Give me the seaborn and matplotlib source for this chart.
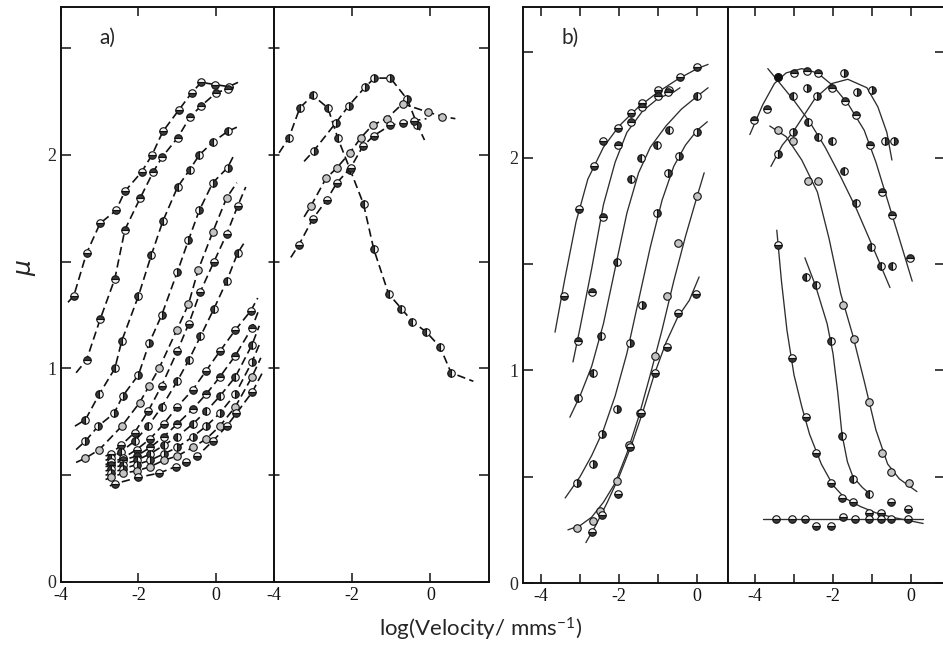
import matplotlib
matplotlib.use("Agg")
import matplotlib.pyplot as plt
import seaborn as sns

# ---------------- data: panel a), left half (dashed curves, points) ----------------
aL1_x = [-3.67, -3.34, -2.99, -2.58, -2.35, -1.92, -1.65, -1.37, -0.96, -0.63, -0.38, -0.03, 0.33]
aL1_y = [1.34, 1.54, 1.68, 1.74, 1.83, 1.92, 2.00, 2.11, 2.21, 2.29, 2.34, 2.33, 2.32]
aL2_x = [-3.34, -2.99, -2.61, -2.35, -1.95, -1.62, -1.39, -0.99, -0.66, -0.38, 0.00, 0.30]
aL2_y = [1.04, 1.23, 1.42, 1.65, 1.80, 1.92, 1.99, 2.08, 2.18, 2.23, 2.29, 2.31]
aL3_x = [-3.37, -3.01, -2.61, -2.43, -2.00, -1.67, -1.37, -0.99, -0.68, -0.43, -0.08, 0.30]
aL3_y = [0.76, 0.88, 1.00, 1.13, 1.34, 1.53, 1.69, 1.85, 1.93, 2.00, 2.06, 2.11]
aL4_x = [-3.37, -3.04, -2.63, -2.41, -2.00, -1.72, -1.40, -1.00, -0.71, -0.43, -0.08, 0.30]
aL4_y = [0.66, 0.73, 0.79, 0.87, 0.97, 1.12, 1.25, 1.45, 1.60, 1.74, 1.87, 1.94]
aL5_x = [-3.37, -3.01, -2.43, -1.97, -1.72, -1.47, -1.01, -0.71, -0.46, -0.08, 0.28]
aL5_y = [0.58, 0.62, 0.73, 0.84, 0.92, 1.00, 1.18, 1.30, 1.46, 1.64, 1.80]
aL6_x = [-2.72, -2.45, -2.10, -1.75, -1.40, -1.00, -0.70, -0.40, -0.05, 0.28, 0.56]
aL6_y = [0.60, 0.64, 0.70, 0.80, 0.92, 1.08, 1.21, 1.36, 1.50, 1.63, 1.76]
aL7_x = [-2.72, -2.45, -2.10, -1.75, -1.40, -1.00, -0.70, -0.40, -0.05, 0.28, 0.56]
aL7_y = [0.58, 0.61, 0.66, 0.73, 0.82, 0.94, 1.04, 1.15, 1.28, 1.41, 1.54]
aL8_x = [-2.70, -2.40, -2.05, -1.70, -1.35, -1.00, -0.60, -0.25, 0.10, 0.50, 0.90]
aL8_y = [0.56, 0.58, 0.62, 0.67, 0.74, 0.82, 0.90, 0.99, 1.08, 1.18, 1.27]
aL9_x = [-2.70, -2.40, -2.05, -1.70, -1.35, -1.00, -0.60, -0.25, 0.10, 0.50, 0.93]
aL9_y = [0.55, 0.57, 0.59, 0.63, 0.68, 0.74, 0.81, 0.88, 0.96, 1.06, 1.19]
aL10_x = [-2.70, -2.40, -2.05, -1.70, -1.35, -1.00, -0.60, -0.25, 0.10, 0.50, 0.93]
aL10_y = [0.53, 0.55, 0.57, 0.60, 0.64, 0.68, 0.74, 0.80, 0.87, 0.96, 1.11]
aL11_x = [-2.70, -2.40, -2.05, -1.70, -1.35, -1.00, -0.60, -0.25, 0.10, 0.50, 0.93]
aL11_y = [0.51, 0.53, 0.55, 0.57, 0.60, 0.63, 0.68, 0.73, 0.79, 0.88, 1.03]
aL12_x = [-2.70, -2.40, -2.05, -1.70, -1.35, -1.00, -0.60, -0.25, 0.10, 0.50, 0.93]
aL12_y = [0.49, 0.51, 0.52, 0.54, 0.57, 0.59, 0.63, 0.67, 0.73, 0.82, 0.96]
aL13_x = [-2.61, -2.00, -1.47, -1.04, -0.76, -0.48, -0.08, 0.28, 0.53, 0.94]
aL13_y = [0.46, 0.49, 0.51, 0.54, 0.56, 0.59, 0.66, 0.73, 0.79, 0.89]
# where each dashed line starts and ends (beyond the first / last point)
aL_start_x = [-3.82, -3.61, -3.64, -3.61, -3.61, -2.85, -2.85, -2.85, -2.85, -2.85, -2.85, -2.85, -2.74]
aL_start_y = [1.31, 0.98, 0.73, 0.62, 0.56, 0.59, 0.57, 0.55, 0.54, 0.52, 0.50, 0.48, 0.45]
aL_end_x = [0.57, 0.45, 0.54, 0.44, 0.54, 0.77, 0.77, 1.08, 1.10, 1.12, 1.14, 1.16, 1.20]
aL_end_y = [2.34, 2.32, 2.13, 1.99, 1.87, 1.85, 1.60, 1.33, 1.27, 1.20, 1.12, 1.05, 0.98]

# ---------------- data: panel a), right half ----------------
aR1_x = [-3.62, -3.34, -3.01, -2.62, -2.37, -2.05, -1.71, -1.45, -1.07, -0.74, -0.46, -0.10, 0.25, 0.53]
aR1_y = [2.08, 2.22, 2.28, 2.22, 2.08, 1.93, 1.77, 1.56, 1.35, 1.28, 1.22, 1.17, 1.10, 0.98]
aR2_x = [-2.98, -2.42, -2.09, -1.66, -1.43, -1.02, -0.59, -0.33]
aR2_y = [2.02, 2.15, 2.23, 2.32, 2.36, 2.36, 2.26, 2.14]
aR3_x = [-3.06, -2.67, -2.39, -2.06, -1.78, -1.48, -1.12, -0.71, -0.05, 0.31]
aR3_y = [1.76, 1.89, 1.94, 2.01, 2.08, 2.14, 2.17, 2.24, 2.20, 2.18]
aR4_x = [-3.36, -3.01, -2.65, -2.39, -2.04, -1.73, -1.45, -1.02, -0.69, -0.43]
aR4_y = [1.58, 1.70, 1.79, 1.87, 1.94, 2.04, 2.09, 2.14, 2.15, 2.16]
aR_start_x = [-3.87, -3.23, -3.23, -3.57]
aR_start_y = [2.01, 1.97, 1.71, 1.52]
aR_end_x = [1.10, -0.15, 0.64, -0.10]
aR_end_y = [0.94, 2.07, 2.17, 2.17]

# ---------------- data: panel b), left half: measured points ----------------
bL1_x = [-3.41, -3.03, -2.64, -2.41, -2.03, -1.69, -1.41, -1.00, -0.72, -0.44, 0.00]
bL1_y = [1.35, 1.76, 1.96, 2.08, 2.14, 2.21, 2.26, 2.32, 2.32, 2.38, 2.43]
bL2_x = [-3.05, -2.69, -2.41, -2.03, -1.69, -1.41, -1.00, -0.74]
bL2_y = [1.14, 1.37, 1.72, 2.06, 2.17, 2.24, 2.29, 2.31]
bL3_x = [-3.05, -2.67, -2.46, -2.05, -1.69, -1.44, -1.03, -0.72, 0.00]
bL3_y = [0.87, 0.99, 1.16, 1.51, 1.90, 2.00, 2.06, 2.13, 2.29]
bL4_x = [-3.08, -2.67, -2.44, -2.05, -1.72, -1.41, -1.03, -0.74, -0.46, 0.00]
bL4_y = [0.47, 0.56, 0.70, 0.82, 1.13, 1.31, 1.74, 1.93, 2.01, 2.12]
bL5_x = [-3.08, -2.67, -2.49, -2.05, -1.74, -1.46, -1.08, -0.77, -0.49, 0.00]
bL5_y = [0.26, 0.29, 0.34, 0.48, 0.65, 0.80, 1.07, 1.35, 1.60, 1.82]
bL6_x = [-2.69, -2.44, -2.03, -1.72, -1.44, -1.08, -0.77, -0.49, -0.03]
bL6_y = [0.24, 0.32, 0.42, 0.64, 0.80, 0.99, 1.11, 1.27, 1.36]
# panel b), left half: drawn curves
bL1_cx = [-3.64, -3.40, -3.10, -2.80, -2.40, -2.00, -1.50, -1.00, -0.50, 0.00, 0.28]
bL1_cy = [1.18, 1.42, 1.70, 1.90, 2.05, 2.15, 2.24, 2.31, 2.37, 2.42, 2.44]
bL2_cx = [-3.18, -3.00, -2.70, -2.40, -2.10, -1.80, -1.40, -1.00, -0.60, -0.44]
bL2_cy = [1.04, 1.20, 1.48, 1.78, 1.98, 2.12, 2.22, 2.28, 2.31, 2.33]
bL3_cx = [-3.26, -3.00, -2.70, -2.40, -2.10, -1.80, -1.50, -1.20, -0.80, -0.40, 0.00, 0.28]
bL3_cy = [0.78, 0.88, 1.02, 1.22, 1.48, 1.74, 1.93, 2.05, 2.15, 2.23, 2.29, 2.33]
bL4_cx = [-3.38, -3.00, -2.70, -2.40, -2.10, -1.80, -1.50, -1.20, -0.90, -0.60, -0.30, 0.00, 0.26]
bL4_cy = [0.40, 0.50, 0.60, 0.72, 0.88, 1.08, 1.33, 1.58, 1.80, 1.96, 2.06, 2.13, 2.17]
bL5_cx = [-3.31, -3.00, -2.70, -2.40, -2.10, -1.80, -1.50, -1.20, -0.90, -0.60, -0.30, 0.00, 0.18]
bL5_cy = [0.25, 0.27, 0.31, 0.38, 0.47, 0.61, 0.78, 0.98, 1.19, 1.42, 1.63, 1.82, 1.93]
bL6_cx = [-2.85, -2.60, -2.30, -2.00, -1.70, -1.40, -1.10, -0.80, -0.50, -0.20, 0.05]
bL6_cy = [0.19, 0.27, 0.38, 0.50, 0.64, 0.80, 0.98, 1.13, 1.25, 1.33, 1.44]

# ---------------- data: panel b), right half: measured points ----------------
bR1_x = [-4.03, -3.69, -3.41, -3.00, -2.67, -2.38, -2.03, -1.69, -1.41, -1.05, -0.74, -0.49, -0.03]
bR1_y = [2.18, 2.23, 2.38, 2.40, 2.41, 2.40, 2.33, 2.27, 2.20, 2.06, 1.84, 1.73, 1.53]
bR2_x = [-3.03, -2.64, -2.38, -2.03, -1.72, -1.41, -1.03, -0.77, -0.49]
bR2_y = [2.29, 2.17, 2.10, 2.08, 1.94, 1.79, 1.58, 1.49, 1.49]
bR3_x = [-3.41, -3.03, -2.67, -2.41, -1.72, -1.38, -1.00, -0.67, -0.44]
bR3_y = [2.02, 2.12, 2.33, 2.29, 2.40, 2.31, 2.32, 2.08, 2.08]
bR4_x = [-3.41, -3.03, -2.64, -2.38, -1.74, -1.46, -1.08, -0.74, -0.51, -0.05]
bR4_y = [2.13, 2.08, 1.89, 1.89, 1.31, 1.15, 0.85, 0.61, 0.52, 0.47]
bR5_x = [-3.41, -3.05, -2.69, -2.44, -2.05, -1.77, -1.49, -1.08, -0.77, -0.51, -0.08]
bR5_y = [1.59, 1.06, 0.78, 0.61, 0.47, 0.40, 0.38, 0.33, 0.33, 0.38, 0.35]
bR6_x = [-2.69, -2.44, -2.05, -1.77, -1.49, -1.08]
bR6_y = [1.44, 1.40, 1.14, 0.69, 0.49, 0.42]
bR7_x = [-3.46, -3.05, -2.72, -2.44, -2.05, -1.74, -1.44, -1.08, -0.77, -0.51, -0.08]
bR7_y = [0.30, 0.30, 0.30, 0.27, 0.27, 0.31, 0.30, 0.30, 0.30, 0.30, 0.30]
# panel b), right half: drawn curves
bR1_cx = [-4.13, -3.80, -3.50, -3.20, -2.80, -2.40, -2.00, -1.60, -1.20, -0.90, -0.60, -0.30, 0.03]
bR1_cy = [2.11, 2.25, 2.35, 2.40, 2.42, 2.40, 2.34, 2.25, 2.13, 1.98, 1.80, 1.62, 1.42]
bR2_cx = [-3.67, -3.40, -3.00, -2.60, -2.20, -1.80, -1.40, -1.00, -0.54]
bR2_cy = [2.42, 2.36, 2.27, 2.17, 2.05, 1.91, 1.76, 1.59, 1.39]
bR3_cx = [-3.59, -3.30, -3.03, -2.46, -2.03, -1.62, -1.13, -0.85, -0.62, -0.49]
bR3_cy = [1.96, 2.06, 2.12, 2.28, 2.35, 2.37, 2.33, 2.24, 2.12, 1.99]
bR4_cx = [-3.62, -3.20, -2.80, -2.40, -2.10, -1.80, -1.50, -1.20, -0.90, -0.60, -0.30, 0.15]
bR4_cy = [2.15, 2.10, 1.99, 1.84, 1.62, 1.36, 1.17, 0.95, 0.72, 0.56, 0.49, 0.43]
bR5_cx = [-3.44, -3.32, -3.18, -3.00, -2.80, -2.60, -2.30, -2.00, -1.70, -1.30, -0.90, -0.50, 0.31]
bR5_cy = [1.66, 1.42, 1.19, 0.98, 0.83, 0.70, 0.56, 0.46, 0.40, 0.36, 0.33, 0.31, 0.28]
bR6_cx = [-2.72, -2.45, -2.15, -2.00, -1.88, -1.77, -1.63, -1.49, -1.25, -1.00]
bR6_cy = [1.53, 1.40, 1.22, 1.08, 0.90, 0.70, 0.57, 0.50, 0.45, 0.41]
bR7_cx = [-3.79, 0.31]
bR7_cy = [0.30, 0.30]

# tick labels
y_ticks = [0, 0.5, 1, 1.5, 2, 2.5]
y_labels = ["0", "", "1", "", "2", ""]
xa_ticks = [-4, -2, 0]
xa_labels = ["-4", "-2", "0"]
xb_ticks = [-4, -3, -2, -1, 0]
xb_labels = ["-4", "", "-2", "", "0"]

# ---------------- styling ----------------
sns.set_style("white")
plt.rcParams["font.family"] = "serif"
plt.rcParams["font.serif"] = ["Liberation Serif", "DejaVu Serif"]

W, H = 943, 655
fig = plt.figure(figsize=(W / 100, H / 100), dpi=100)


def add_ax(x0, x1, y0, y1):
    return fig.add_axes([x0 / W, 1 - y1 / H, (x1 - x0) / W, (y1 - y0) / H])


axL = add_ax(61, 274, 7, 582)
axR = add_ax(274, 489, 7, 582)
bxL = add_ax(523, 728, 7, 583)
bxR = add_ax(728, 945, 7, 583)

FILLS = ["bottom", "top", "left", "right", "full", "bottom", "left"]
INK = "#111111"


def draw_line(ax, xs, ys, dashed):
    sns.lineplot(
        x=xs, y=ys, ax=ax, sort=False, estimator=None,
        color=INK if dashed else "#2e2e2e",
        linewidth=1.2 if dashed else 0.95,
        linestyle=(0, (5, 2.6)) if dashed else "-",
    )


def draw_marks(ax, xs, ys, k):
    fs = FILLS[k % len(FILLS)]
    face = "#c4c4c4" if fs == "full" else "#3a3a3a"
    sns.lineplot(
        x=xs, y=ys, ax=ax, sort=False, estimator=None, linestyle="none",
        marker="o", markersize=5.4, fillstyle=fs, color=INK,
        markerfacecolor=face, markerfacecoloralt="#f4f4f4",
        markeredgecolor=INK, markeredgewidth=0.8,
    )


aL = [(aL1_x, aL1_y), (aL2_x, aL2_y), (aL3_x, aL3_y), (aL4_x, aL4_y), (aL5_x, aL5_y),
      (aL6_x, aL6_y), (aL7_x, aL7_y), (aL8_x, aL8_y), (aL9_x, aL9_y), (aL10_x, aL10_y),
      (aL11_x, aL11_y), (aL12_x, aL12_y), (aL13_x, aL13_y)]
aR = [(aR1_x, aR1_y), (aR2_x, aR2_y), (aR3_x, aR3_y), (aR4_x, aR4_y)]
bL = [(bL1_x, bL1_y), (bL2_x, bL2_y), (bL3_x, bL3_y), (bL4_x, bL4_y), (bL5_x, bL5_y), (bL6_x, bL6_y)]
bLc = [(bL1_cx, bL1_cy), (bL2_cx, bL2_cy), (bL3_cx, bL3_cy), (bL4_cx, bL4_cy),
       (bL5_cx, bL5_cy), (bL6_cx, bL6_cy)]
bR = [(bR1_x, bR1_y), (bR2_x, bR2_y), (bR3_x, bR3_y), (bR4_x, bR4_y), (bR5_x, bR5_y),
      (bR6_x, bR6_y), (bR7_x, bR7_y)]
bRc = [(bR1_cx, bR1_cy), (bR2_cx, bR2_cy), (bR3_cx, bR3_cy), (bR4_cx, bR4_cy),
       (bR5_cx, bR5_cy), (bR6_cx, bR6_cy), (bR7_cx, bR7_cy)]

for k, (xs, ys) in enumerate(aL):
    draw_line(axL, [aL_start_x[k]] + xs + [aL_end_x[k]], [aL_start_y[k]] + ys + [aL_end_y[k]], True)
for k, (xs, ys) in enumerate(aL):
    draw_marks(axL, xs, ys, k)
for k, (xs, ys) in enumerate(aR):
    draw_line(axR, [aR_start_x[k]] + xs + [aR_end_x[k]], [aR_start_y[k]] + ys + [aR_end_y[k]], True)
for k, (xs, ys) in enumerate(aR):
    draw_marks(axR, xs, ys, k + 2)
for xs, ys in bLc:
    draw_line(bxL, xs, ys, False)
for k, (xs, ys) in enumerate(bL):
    draw_marks(bxL, xs, ys, k)
for xs, ys in bRc:
    draw_line(bxR, xs, ys, False)
for k, (xs, ys) in enumerate(bR):
    draw_marks(bxR, xs, ys, k + 1)
# the common top point of the two left-most arches (filled black)
sns.lineplot(x=[-3.41], y=[2.38], ax=bxR, linestyle="none", marker="o", markersize=5.4,
             color=INK, markerfacecolor=INK, markeredgecolor=INK)

# axes limits / ticks
for ax in (axL, axR):
    ax.set_xlim(-4, 1.5)
    ax.set_ylim(0, 2.693)
    ax.set_xticks(xa_ticks)
    ax.set_xticklabels(xa_labels)
bxL.set_xlim(-4.46, 0.79)
bxR.set_xlim(-4.69, 0.87)
for ax in (bxL, bxR):
    ax.set_ylim(0, 2.71)
    ax.set_xticks(xb_ticks)
    ax.set_xticklabels(xb_labels)

TICK_FS = 13
for ax in (axL, axR, bxL, bxR):
    ax.set_yticks(y_ticks)
    ax.set_xlabel("")
    ax.set_ylabel("")
    for s in ax.spines.values():
        s.set_linewidth(1.4)
        s.set_color(INK)
    ax.tick_params(axis="x", which="both", direction="in", top=True, bottom=True,
                   length=6.5, width=1.1, color=INK, labelsize=TICK_FS, pad=3.5, labelcolor=INK)

axL.set_yticklabels(y_labels)
axL.tick_params(axis="y", direction="in", left=True, right=False, length=7, width=1.1,
                labelsize=TICK_FS, pad=3.5, color=INK)
axR.set_yticklabels([])
axR.tick_params(axis="y", which="both", left=False, right=True, direction="in", length=7, width=1.1,
                color=INK)
# crossing ticks on the divider of panel a
for yv in y_ticks[1:]:
    axR.plot([-4.0 - 0.13, -4.0 + 0.13], [yv, yv], color=INK, lw=1.1, clip_on=False, zorder=5)
bxL.set_yticklabels(y_labels)
bxL.tick_params(axis="y", direction="in", left=True, right=False, length=7, width=1.1,
                labelsize=TICK_FS, pad=3.5, color=INK)
bxR.set_yticklabels([])
bxR.tick_params(axis="y", direction="in", left=False, right=True, length=7, width=1.1, color=INK)

for ax in (axL, axR, bxL, bxR):
    for lbl in ax.get_xticklabels() + ax.get_yticklabels():
        lbl.set_family(["Liberation Serif", "DejaVu Serif"])

# texts
sans = ["Lato", "DejaVu Sans"]
plt.rcParams["mathtext.fontset"] = "custom"
plt.rcParams["mathtext.rm"] = "Lato"
plt.rcParams["mathtext.it"] = "Lato:italic"
fig.text(107 / W, 1 - 38 / H, "a)", ha="center", va="center", fontsize=15, family=sans)
fig.text(570 / W, 1 - 38 / H, "b)", ha="center", va="center", fontsize=15, family=sans)
fig.text(24 / W, 1 - 268 / H, "\u03bc", ha="center", va="center", fontsize=18,
         rotation=90, style="italic", family=["DejaVu Sans"])
fig.text(481 / W, 1 - 629 / H, "log(Velocity/ mms$^{\\mathrm{-1}}$)", ha="center", va="center",
         fontsize=16, family=sans)

fig.savefig("out.png", dpi=100)
